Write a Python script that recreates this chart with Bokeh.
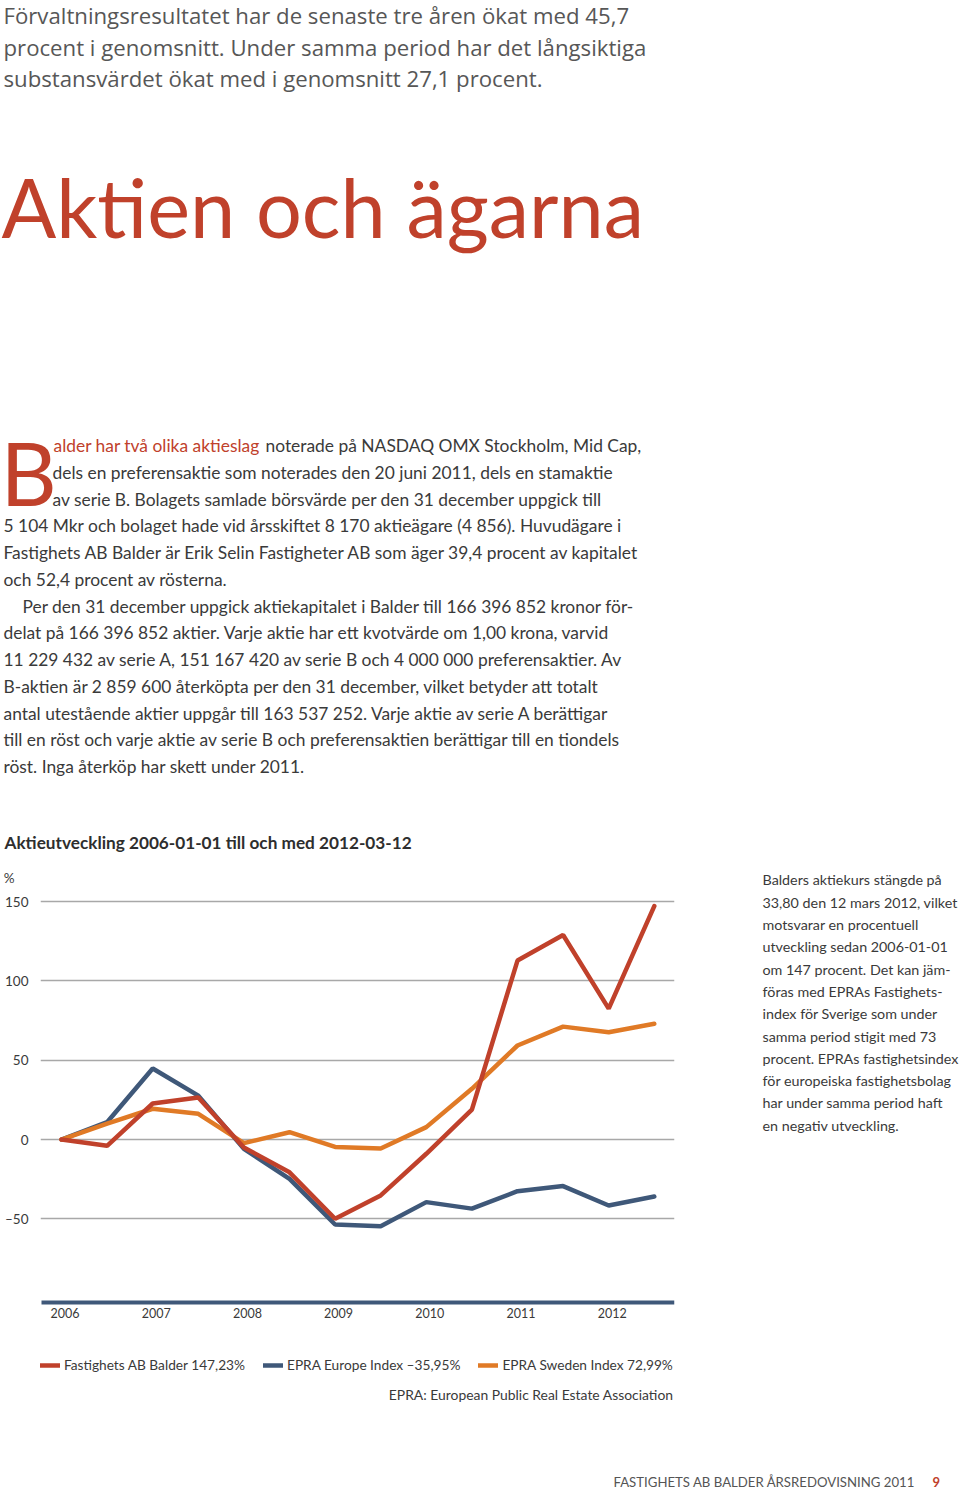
from bokeh.plotting import figure
from bokeh.models import Range1d, FixedTicker, Legend, LegendItem
from bokeh.layouts import column, row
from bokeh.embed import file_html
from bokeh.resources import INLINE
from bokeh.core.properties import value

FONT = "Lato"
FONT_INTRO = "Open Sans"
RED = "#c0412b"
BLUE = "#3f5879"
ORANGE = "#e07a26"
GRID = "#a8a8a8"
TXT = "#3a3a3a"
GREY = "#575757"

# ---------------- data ----------------
# half-year steps from 2006-01-01 to 2012-03-12
periods = list(range(14))
balder = [0, -4, 22.7, 26.5, -5, -20.7, -50, -35.3, -9, 18.9, 112.9, 129, 82.6, 147.2]
europe = [0, 10.9, 44.8, 27.7, -5.9, -24.8, -53.6, -54.7, -39.5, -43.6, -32.6, -29.4, -41.6, -36.0]
sweden = [0, 10, 19.4, 16.2, -2.3, 4.6, -4.7, -5.7, 7.8, 32, 59.3, 71.2, 67.7, 73.0]
year_ticks = [0, 2, 4, 6, 8, 10, 12]
year_labels = ["2006", "2007", "2008", "2009", "2010", "2011", "2012"]
y_ticks = [-50, 0, 50, 100, 150]
y_labels = ["\u201350", "0", "50", "100", "150"]
unit_tick = 165
unit_label = "%" + "\u00a0" * 4
legend_labels = ["Fastighets AB Balder 147,23%", "EPRA Europe Index \u201335,95%", "EPRA Sweden Index 72,99%"]

intro_lines = [
    "Förvaltningsresultatet har de senaste tre åren ökat med 45,7",
    "procent i genomsnitt. Under samma period har det långsiktiga",
    "substansvärdet ökat med i genomsnitt 27,1 procent.",
]
headline = "Aktien och ägarna"
drop_cap = "B"
lead_red = "alder har två olika aktieslag"
lead_rest = "noterade på NASDAQ OMX Stockholm, Mid Cap,"
body_lines = [
    "dels en preferensaktie som noterades den 20 juni 2011, dels en stamaktie",
    "av serie B. Bolagets samlade börsvärde per den 31 december uppgick till",
    "5 104 Mkr och bolaget hade vid årsskiftet 8 170 aktieägare (4 856). Huvudägare i",
    "Fastighets AB Balder är Erik Selin Fastigheter AB som äger 39,4 procent av kapitalet",
    "och 52,4 procent av rösterna.",
    "Per den 31 december uppgick aktiekapitalet i Balder till 166 396 852 kronor för-",
    "delat på 166 396 852 aktier. Varje aktie har ett kvotvärde om 1,00 krona, varvid",
    "11 229 432 av serie A, 151 167 420 av serie B och 4 000 000 preferensaktier. Av",
    "B-aktien är 2 859 600 återköpta per den 31 december, vilket betyder att totalt",
    "antal utestående aktier uppgår till 163 537 252. Varje aktie av serie A berättigar",
    "till en röst och varje aktie av serie B och preferensaktien berättigar till en tiondels",
    "röst. Inga återköp har skett under 2011.",
]
body_x = [52, 52, 3, 3, 3, 22, 3, 3, 3, 3, 3, 3]
chart_title = "Aktieutveckling 2006-01-01 till och med 2012-03-12"
side_lines = [
    "Balders aktiekurs stängde på",
    "33,80 den 12 mars 2012, vilket",
    "motsvarar en procentuell",
    "utveckling sedan 2006-01-01",
    "om 147 procent. Det kan jäm-",
    "föras med EPRAs Fastighets-",
    "index för Sverige som under",
    "samma period stigit med 73",
    "procent. EPRAs fastighetsindex",
    "för europeiska fastighetsbolag",
    "har under samma period haft",
    "en negativ utveckling.",
]
note = "EPRA: European Public Real Estate Association"
footer = "FASTIGHETS AB BALDER ÅRSREDOVISNING 2011"
page_no = "9"

BASE_SHIFT = 0.39  # baseline correction (fraction of font size)


def txt(p, xs, bases, texts, size, color, font=FONT, style="normal", align="left"):
    ys = [b - BASE_SHIFT * size for b in bases]
    p.text(x=xs, y=ys, text=texts, text_font=value(font), text_font_size=f"{size}px",
           text_color=color, text_font_style=style, text_align=align,
           text_baseline="alphabetic")


def blank(w, h, x0, x1, y_bottom, y_top, **kw):
    p = figure(width=w, height=h, x_range=Range1d(x0, x1), y_range=Range1d(y_bottom, y_top),
               x_axis_type=None, y_axis_type=None, toolbar_location=None,
               output_backend="svg", **kw)
    p.outline_line_color = None
    return p


# ---------------- top text block (page pixel coordinates) ----------------
top = blank(960, 860, 0, 960, 860, 0, min_border=0)
txt(top, [3] * 3, [24, 55.5, 87], intro_lines, 22.2, GREY, font=FONT_INTRO)
txt(top, [1], [238], [headline], 81, RED)
txt(top, [0], [506], [drop_cap], 87, RED)
txt(top, [53], [452], [lead_red], 17.4, RED)
txt(top, [265], [452], [lead_rest], 17.4, TXT)
txt(top, body_x, [452 + 26.75 * (i + 1) for i in range(len(body_lines))], body_lines, 17.4, TXT)
txt(top, [4], [849], [chart_title], 17.2, "#2e2e2e", style="bold")

# ---------------- chart ----------------
FR_L, FR_R, FR_T, FR_B = 40, 674, 870, 1405     # frame edges (page px)
PX_PER_STEP = 45.6
ORIGIN_PX = 61                                    # page x of the first period
X0 = (FR_L - ORIGIN_PX) / PX_PER_STEP
X1 = (FR_R - ORIGIN_PX) / PX_PER_STEP
Y0, Y1 = -167.8, 169.7


def px_x(px):
    return X0 + (px - FR_L) * (X1 - X0) / (FR_R - FR_L)


def px_y(py):
    return Y1 - (py - FR_T) * (Y1 - Y0) / (FR_B - FR_T)


chart = figure(width=748, height=570, x_range=Range1d(X0, X1), y_range=Range1d(Y0, Y1),
               toolbar_location=None, output_backend="svg",
               min_border_left=FR_L, min_border_right=748 - FR_R,
               min_border_top=FR_T - 860, min_border_bottom=1430 - FR_B)
chart.outline_line_color = None
chart.xgrid.visible = False
chart.ygrid.ticker = FixedTicker(ticks=y_ticks)
chart.ygrid.grid_line_color = GRID
chart.ygrid.grid_line_width = 1.3

chart.yaxis.ticker = FixedTicker(ticks=y_ticks + [unit_tick])
chart.yaxis.major_label_overrides = {**dict(zip(y_ticks, y_labels)), unit_tick: unit_label}
chart.yaxis.axis_line_color = None
chart.yaxis.major_tick_line_color = None
chart.yaxis.major_tick_out = 0
chart.yaxis.minor_tick_line_color = None
chart.yaxis.major_label_standoff = 12
chart.yaxis.major_label_text_font = FONT
chart.yaxis.major_label_text_font_size = "13.5px"
chart.yaxis.major_label_text_color = TXT

label_shift = round(3.5 / PX_PER_STEP, 3)          # year labels sit slightly right of the period
x_label_pos = [round(t + label_shift, 3) for t in year_ticks]
chart.xaxis.ticker = FixedTicker(ticks=x_label_pos)
chart.xaxis.major_label_overrides = dict(zip(x_label_pos, year_labels))
chart.xaxis.fixed_location = px_y(1302)
chart.xaxis.bounds = (px_x(41), px_x(674))
chart.xaxis.axis_line_color = BLUE
chart.xaxis.axis_line_width = 4
chart.xaxis.major_tick_line_color = None
chart.xaxis.major_tick_out = 0
chart.xaxis.minor_tick_line_color = None
chart.xaxis.major_label_standoff = 5
chart.xaxis.major_label_text_font = FONT
chart.xaxis.major_label_text_font_size = "12.5px"
chart.xaxis.major_label_text_color = TXT

r_eu = chart.line(periods, europe, line_color=BLUE, line_width=4.5, line_cap="round")
r_se = chart.line(periods, sweden, line_color=ORANGE, line_width=4.5, line_cap="round")
r_ba = chart.line(periods, balder, line_color=RED, line_width=4.5, line_cap="round")

legend = Legend(items=[LegendItem(label=legend_labels[0], renderers=[r_ba]),
                       LegendItem(label=legend_labels[1], renderers=[r_eu]),
                       LegendItem(label=legend_labels[2], renderers=[r_se])],
                orientation="horizontal", location=(0, FR_B - 1373),
                label_text_font=FONT, label_text_font_size="13.7px", label_text_color=TXT,
                glyph_width=20, glyph_height=16, label_standoff=4, spacing=18,
                padding=0, margin=0, border_line_color=None, background_fill_alpha=0)
chart.add_layout(legend)

note_size = 13.9
chart.text(x=[px_x(673)], y=[px_y(1399 - BASE_SHIFT * note_size)], text=[note],
           text_font=value(FONT), text_font_size=f"{note_size}px", text_color=TXT,
           text_align="right", text_baseline="alphabetic")

# ---------------- side text ----------------
side = blank(212, 570, 748, 960, FR_B, FR_T, min_border_left=0, min_border_right=0,
             min_border_top=FR_T - 860, min_border_bottom=1430 - FR_B)
txt(side, [762] * len(side_lines), [885 + 22.3 * i for i in range(len(side_lines))],
    side_lines, 14.3, TXT)

# ---------------- footer ----------------
bottom = blank(960, 62, 0, 960, 1492, 1430, min_border=0)
txt(bottom, [613], [1487], [footer], 13.2, "#555555")
txt(bottom, [932], [1487], [page_no], 13, RED, style="bold")

page = column(top, row(chart, side), bottom)
open("out.html", "w").write(file_html(page, INLINE))
